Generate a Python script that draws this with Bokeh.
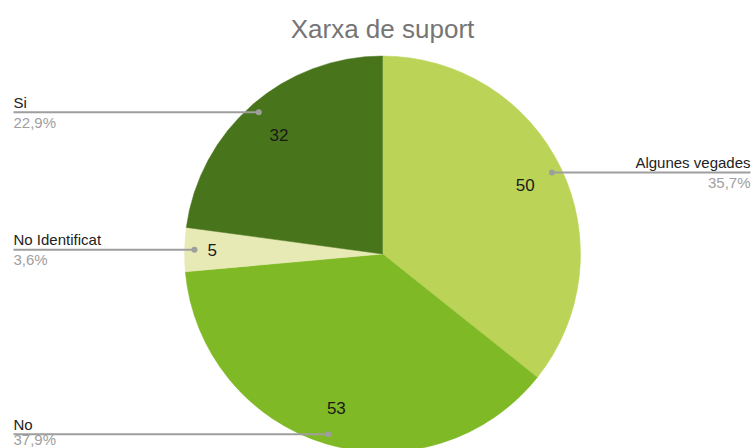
import math
from bokeh.plotting import figure
from bokeh.models import ColumnDataSource
from bokeh.core.properties import value
from bokeh.embed import file_html
from bokeh.resources import INLINE

# ---- data ----
title_text = "Xarxa de suport"
categories = ["Algunes vegades", "No", "No Identificat", "Si"]
counts = [50, 53, 5, 32]
colors = ["#bbd458", "#80b926", "#e8eab5", "#48741b"]
label_side = ["right", "left", "left", "left"]
value_label_radius = [0.80, 0.81, 0.86, 0.795]

# ---- layout (pixels, y up) ----
W, H = 754, 448
cx, cy, R = 382, 194.5, 198
FONT = value("Liberation Sans")

p = figure(width=W, height=H, x_range=(0, W), y_range=(0, H),
           output_backend="svg", toolbar_location=None,
           min_border=0, outline_line_color=None, background_fill_color="white")
p.axis.visible = False
p.grid.visible = False

total = sum(counts)
starts, ends, mids = [], [], []
a = math.pi / 2
for c in counts:
    sweep = 2 * math.pi * c / total
    starts.append(a - sweep)
    ends.append(a)
    mids.append(a - sweep / 2)
    a -= sweep

src = ColumnDataSource(dict(start=starts, end=ends, color=colors))
p.wedge(x=cx, y=cy, radius=R, start_angle="start", end_angle="end",
        fill_color="color", line_color="color", line_width=0.5, source=src)

# value labels inside slices
vx = [cx + f * R * math.cos(m) for f, m in zip(value_label_radius, mids)]
vy = [cy + f * R * math.sin(m) for f, m in zip(value_label_radius, mids)]
p.text(x=vx, y=vy, text=[str(c) for c in counts], text_font=FONT,
       text_font_size="17px", text_color="#1a1a1a",
       text_align="center", text_baseline="middle")

# leader lines and outside labels
pct = [("%.1f%%" % (100 * c / total)).replace(".", ",") for c in counts]
left_x, right_x = 13, 750
dot_r = 0.95 * R
for cat, pc, m, side in zip(categories, pct, mids, label_side):
    dx = cx + dot_r * math.cos(m)
    dy = cy + dot_r * math.sin(m)
    ex = left_x if side == "left" else right_x
    p.line([dx, ex], [dy, dy], line_color="#9e9e9e", line_width=2)
    p.scatter([dx], [dy], size=6, fill_color="#9e9e9e", line_color=None)
    align = "left" if side == "left" else "right"
    p.text(x=[ex], y=[dy + 10], text=[cat], text_font=FONT,
           text_font_size="15px", text_color="#222222",
           text_align=align, text_baseline="middle")
    p.text(x=[ex], y=[max(dy - 10, 9)], text=[pc], text_font=FONT,
           text_font_size="15px", text_color="#a0a0a0",
           text_align=align, text_baseline="middle")

# title
p.text(x=[cx], y=[H - 28], text=[title_text], text_font=FONT,
       text_font_size="26px", text_color="#757575",
       text_align="center", text_baseline="middle")

open("out.html", "w").write(file_html(p, INLINE))
